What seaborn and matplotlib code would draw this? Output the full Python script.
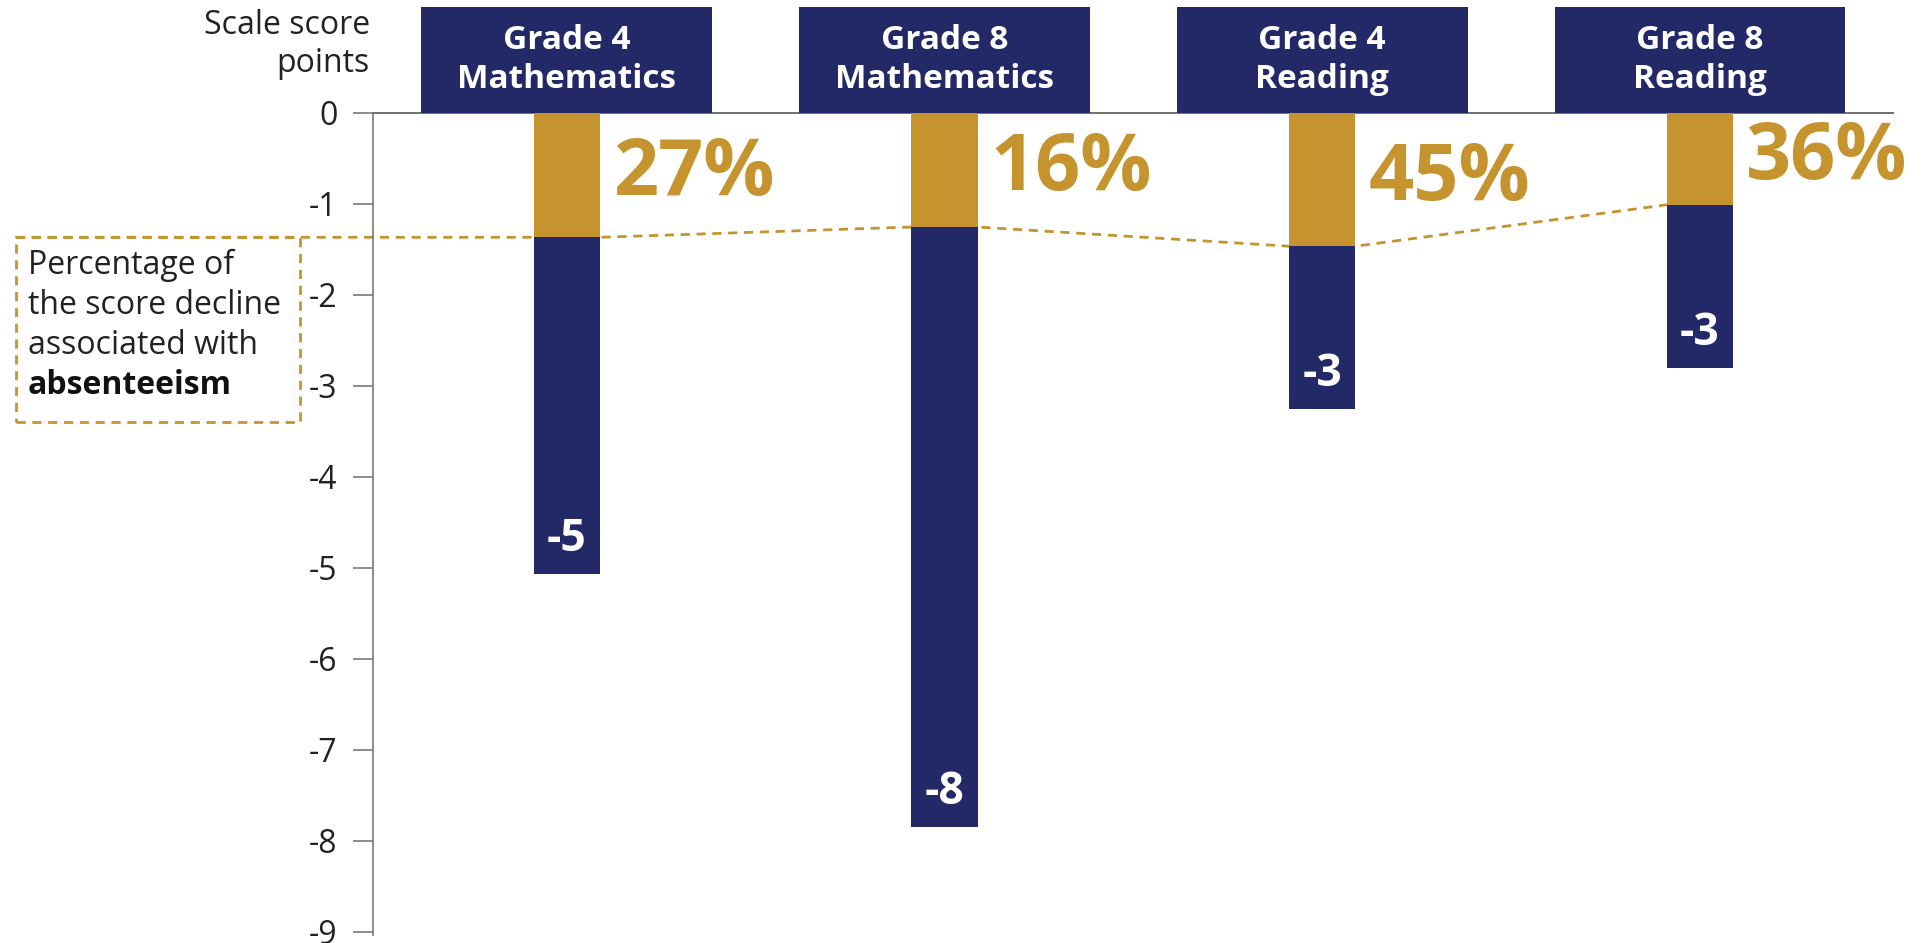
import numpy as np
import pandas as pd
import matplotlib
matplotlib.use("Agg")
import matplotlib.pyplot as plt
from matplotlib.patches import Rectangle
import seaborn as sns

# Data
subjects = ["Grade 4\nMathematics", "Grade 8\nMathematics", "Grade 4\nReading", "Grade 8\nReading"]
score_change = [-5.07, -7.85, -3.26, -2.81]      # scale score points
absentee_share = [27, 16, 45, 36]                # % of decline associated with absenteeism
y_ticks = [0, -1, -2, -3, -4, -5, -6, -7, -8, -9]

NAVY = "#232966"
GOLD = "#C6942E"
GREY = "#6f6f6f"
TEXT = "#222222"

sns.set_theme(style="white")
plt.rcParams["font.family"] = ["Open Sans", "DejaVu Sans"]
plt.rcParams["axes.unicode_minus"] = False

df = pd.DataFrame({
    "subject": subjects,
    "change": score_change,
    "share": absentee_share,
})
df["absentee_part"] = df["change"] * df["share"] / 100.0

fig = plt.figure(figsize=(19.21, 9.43), dpi=100)
ax = fig.add_axes([0.194, 0.0088, 0.7914, 0.8717])

bar_w = 0.175
sns.barplot(data=df, x="subject", y="change", color=NAVY, saturation=1,
            width=bar_w, errorbar=None, linewidth=0, ax=ax, zorder=3)
sns.barplot(data=df, x="subject", y="absentee_part", color=GOLD, saturation=1,
            width=bar_w, errorbar=None, linewidth=0, ax=ax, zorder=4)

ax.set_xlim(-0.514, 3.511)
ax.set_ylim(-9.03, 0)
ax.set_xlabel("")
ax.set_ylabel("")
ax.set_xticks([])
ax.set_yticks(y_ticks)
ax.set_yticklabels([f"{t:d}" for t in y_ticks], fontsize=23, color=TEXT)
ax.tick_params(axis="y", direction="out", length=14.4, width=1.1,
               color=GREY, pad=11, left=True)

for side in ["right", "bottom"]:
    ax.spines[side].set_visible(False)
ax.spines["left"].set_color(GREY)
ax.spines["left"].set_linewidth(1.1)
ax.spines["top"].set_color(GREY)
ax.spines["top"].set_linewidth(1.4)

# Subject header boxes above the zero line
head_w, head_h = 0.77, 1.161
for i, name in enumerate(df["subject"]):
    ax.add_patch(Rectangle((i - head_w / 2, 0), head_w, head_h, facecolor=NAVY,
                           edgecolor="none", clip_on=False, zorder=5))
    ax.text(i, head_h / 2, name, ha="center", va="center", color="white",
            fontsize=24, fontweight="bold", linespacing=1.25, zorder=6,
            clip_on=False)

# Value and share labels
for i, row in df.iterrows():
    ax.annotate(f"{row['change']:.0f}", xy=(i, row["change"]), xytext=(0, 25),
                textcoords="offset points", ha="center", va="center",
                color="white", fontsize=32, fontweight="bold", zorder=6)
    ax.text(i + bar_w / 2 + 0.035, row["absentee_part"] / 2, f"{row['share']}%",
            ha="left", va="center", color=GOLD, fontsize=57,
            fontweight="bold", zorder=6, clip_on=False)

# Dashed connector through the absenteeism segment ends
box_left, box_right = -1.459, -0.706
parts = df["absentee_part"].tolist()
xs = [box_left]
ys = [parts[0]]
for i, p in enumerate(parts):
    xs += [i - bar_w / 2, i + bar_w / 2]
    ys += [p, p]
ax.plot(xs, ys, color=GOLD, lw=2.0, linestyle=(0, (3.3, 2.4)),
        zorder=2, clip_on=False)

# Dashed explanatory box
box_h = 2.03
box_top = parts[0]
ax.add_patch(Rectangle((box_left, box_top - box_h), box_right - box_left, box_h,
                       fill=False, edgecolor=GOLD, lw=2.0,
                       linestyle=(0, (3.3, 2.4)), clip_on=False, zorder=2))
note_lines = ["Percentage of", "the score decline", "associated with", "absenteeism"]
for k, line in enumerate(note_lines):
    ax.annotate(line, xy=(box_left, box_top), xytext=(8.5, -(20 + 28.8 * k)),
                textcoords="offset points", ha="left", va="center",
                fontsize=23, color=TEXT if k < 3 else "#111111",
                fontweight="bold" if k == 3 else "normal",
                annotation_clip=False)

# Axis title
ax.text(-0.522, 0.744, "Scale score\npoints", ha="right", va="center",
        fontsize=23, color=TEXT, linespacing=1.2, clip_on=False)

fig.savefig("out.png", dpi=100)
